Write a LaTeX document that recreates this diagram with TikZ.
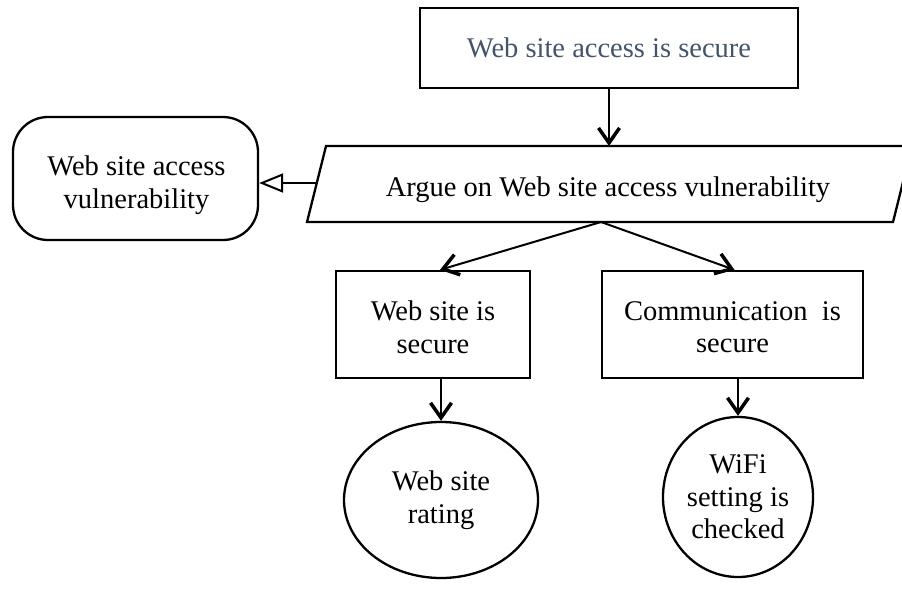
\documentclass[tikz,border=0pt]{standalone}
\usepackage{fontspec}
\setmainfont{Liberation Serif}
\usetikzlibrary{arrows.meta,shapes.geometric,calc}
\definecolor{titlegray}{HTML}{44546A}
\tikzset{
  txt/.style={font=\fontsize{28.5}{32.5}\selectfont, align=center, inner sep=0pt},
  boxnode/.style={draw, line width=2.3pt, rectangle, inner sep=0pt},
  ellnode/.style={txt, draw, line width=2.3pt, ellipse},
  conn/.style={line width=2pt, -{Straight Barb[length=15pt,width=21pt,line width=3.5pt]}},
  inh/.style={line width=2pt, -{Triangle[open,length=24pt,width=19pt,line width=2pt]}},
}
\begin{document}
\begin{tikzpicture}[x=1pt,y=-1pt]
\useasboundingbox (0,0) rectangle (902,602);
\node[boxnode, txt, minimum width=378pt, minimum height=80pt, text=titlegray] (top) at (609,48) {Web site access is secure};
% parallelogram
\coordinate (p1) at (326,146);
\coordinate (p2) at (912,146);
\coordinate (p3) at (893,222);
\coordinate (p4) at (307,222);
\draw[line width=2.3pt, line join=miter] (p1) -- (p2) -- (p3) -- (p4) -- cycle;
\node[txt] (arg) at (608,190) {Argue on Web site access vulnerability};
\coordinate (argtop) at (609,146);
\coordinate (argbot) at (601,222);
\coordinate (argleft) at (316.5,183);
\node[boxnode, rounded corners=35pt, minimum width=245pt, minimum height=123pt] (vul) at (135.5,178.5) {};
\node[txt] (vult) at (136.5,185) {Web site access\\vulnerability};
\node[boxnode, minimum width=194pt, minimum height=107pt] (b1) at (433,324.5) {};
\node[txt] (b1t) at (433,327) {Web site is\\secure};
\node[boxnode, minimum width=261pt, minimum height=107pt] (b2) at (732.5,324.5) {};
\node[txt] (b2t) at (732.5,327) {Communication\ \ is\\secure};
\node[ellnode, minimum width=194pt, minimum height=156pt] (e1) at (441,500) {Web site\\rating};
\node[ellnode, minimum width=150pt, minimum height=160pt] (e2) at (738,497) {WiFi\\setting is\\checked};
\draw[conn] (top.south -| argtop) -- (argtop);
\draw[inh] (argleft) -- (argleft -| vul.east);
\draw[conn] (argbot) -- ($(b1.north)+(7,0)$);
\draw[conn] (argbot) -- ($(b2.north)+(2,0)$);
\draw[conn] (e1.north |- b1.south) -- (e1.north);
\draw[conn] (e2.north |- b2.south) -- (e2.north);
\end{tikzpicture}
\end{document}
